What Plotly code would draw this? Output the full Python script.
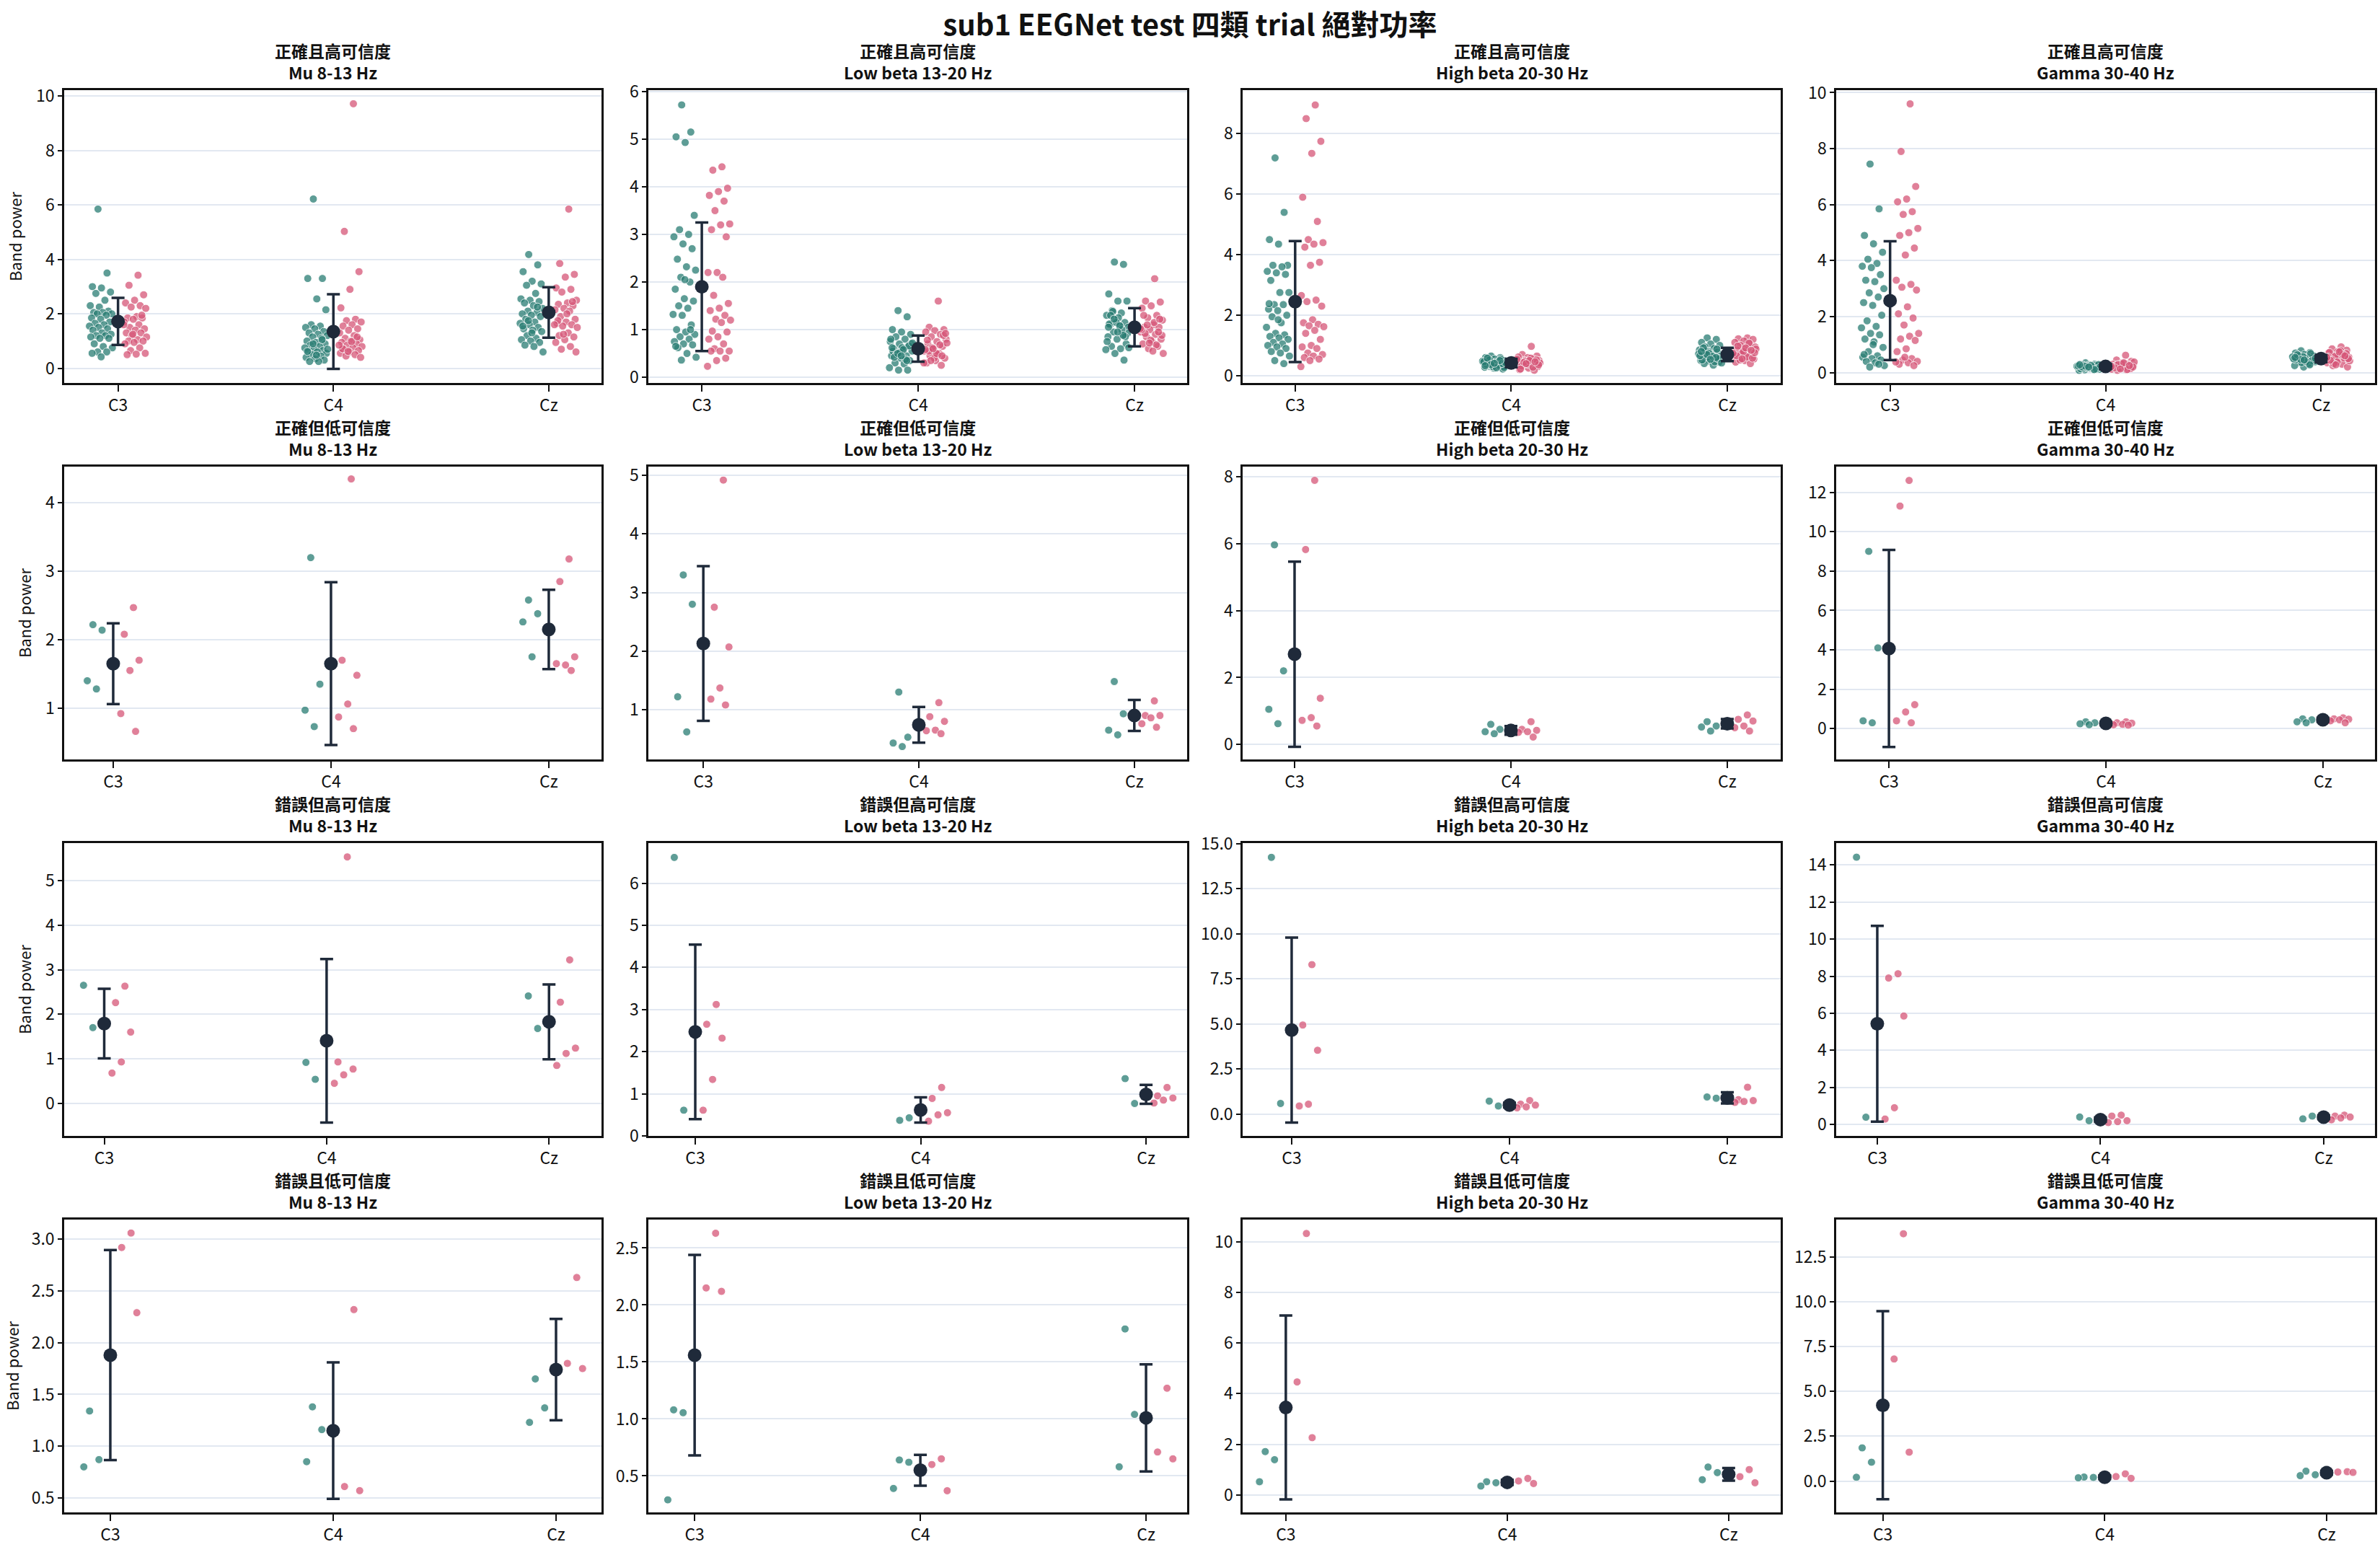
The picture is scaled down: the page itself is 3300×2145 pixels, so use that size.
import plotly.graph_objects as go
from plotly.subplots import make_subplots

# ---------------- data ----------------
channels = ["C3", "C4", "Cz"]
groups = ["正確且高可信度", "正確但低可信度", "錯誤但高可信度", "錯誤且低可信度"]
bands = ["Mu 8-13 Hz", "Low beta 13-20 Hz", "High beta 20-30 Hz", "Gamma 30-40 Hz"]
main_title = "sub1 EEGNet test 四類 trial 絕對功率"
y_title = "Band power"

# ---- row 1: 正確且高可信度 ----
r1_mu_a = [
    [5.85, 3.5, 3.0, 2.95, 2.8, 2.75, 2.5, 2.3, 2.25, 2.1, 2.05, 2.05, 2.0, 2.0, 1.95, 1.85, 1.8, 1.7, 1.65, 1.6, 1.55, 1.5, 1.45, 1.4, 1.3, 1.25, 1.2, 1.2, 1.15, 1.1, 1.1, 0.9, 0.8, 0.75, 0.6, 0.6, 0.55, 0.42],
    [6.22, 3.3, 3.3, 2.55, 2.15, 1.6, 1.55, 1.5, 1.45, 1.35, 1.3, 1.25, 1.2, 1.15, 1.1, 1.0, 0.95, 0.9, 0.85, 0.8, 0.75, 0.7, 0.65, 0.6, 0.6, 0.55, 0.5, 0.45, 0.4, 0.35, 0.3, 0.25, 0.25, 0.7, 0.9, 1.05, 0.62, 0.48],
    [4.18, 3.8, 3.55, 3.2, 3.1, 3.05, 2.75, 2.55, 2.5, 2.45, 2.4, 2.3, 2.2, 2.1, 2.05, 2.0, 1.95, 1.9, 1.8, 1.7, 1.65, 1.6, 1.5, 1.45, 1.4, 1.35, 1.2, 1.1, 1.05, 1.0, 0.95, 0.85, 0.8, 0.6, 1.75, 2.25, 1.55, 1.3],
]
r1_mu_b = [
    [3.42, 3.05, 2.7, 2.5, 2.4, 2.3, 2.25, 2.2, 1.9, 1.85, 1.85, 1.8, 1.7, 1.6, 1.5, 1.45, 1.4, 1.3, 1.3, 1.2, 1.15, 1.05, 1.0, 1.0, 0.95, 0.9, 0.75, 0.65, 0.55, 0.52, 0.5, 1.95, 1.25, 1.6],
    [9.72, 5.03, 3.55, 2.9, 2.22, 1.8, 1.75, 1.7, 1.6, 1.55, 1.45, 1.4, 1.3, 1.2, 1.1, 1.05, 1.0, 0.95, 0.9, 0.85, 0.8, 0.75, 0.7, 0.65, 0.6, 0.55, 0.5, 0.45, 0.4, 0.98, 0.72, 1.15, 0.62, 0.85],
    [5.85, 3.85, 3.45, 3.35, 2.95, 2.9, 2.8, 2.5, 2.4, 2.35, 2.3, 2.2, 2.15, 2.1, 1.9, 1.8, 1.7, 1.65, 1.6, 1.55, 1.5, 1.3, 1.2, 1.15, 1.05, 0.95, 0.8, 0.7, 0.6, 2.0, 1.75, 2.45, 1.25, 1.6],
]
r1_mu_mean = [1.72, 1.35, 2.05]
r1_mu_sd = [0.865, 1.37, 0.93]

r1_lb_a = [
    [5.72, 5.15, 5.05, 4.93, 3.4, 3.1, 3.0, 2.95, 2.8, 2.7, 2.48, 2.32, 2.25, 2.1, 2.0, 1.85, 1.65, 1.6, 1.5, 1.45, 1.32, 1.3, 1.1, 1.0, 0.95, 0.9, 0.85, 0.8, 0.75, 0.7, 0.68, 0.62, 0.5, 0.42, 0.36, 1.0, 0.65, 2.05],
    [1.4, 1.27, 1.0, 0.95, 0.9, 0.85, 0.8, 0.75, 0.7, 0.65, 0.6, 0.6, 0.55, 0.5, 0.45, 0.45, 0.4, 0.35, 0.3, 0.28, 0.2, 0.15, 0.15, 0.55, 0.62, 0.7, 0.48, 0.38, 0.8, 0.52, 0.66, 0.42, 0.58, 0.72, 0.5, 0.35, 0.62, 0.45],
    [2.42, 2.37, 1.75, 1.6, 1.6, 1.4, 1.35, 1.3, 1.2, 1.15, 1.1, 1.1, 1.05, 0.95, 0.9, 0.85, 0.8, 0.7, 0.65, 0.6, 0.58, 0.5, 0.36, 1.12, 1.25, 0.92, 1.38, 1.0, 0.75, 1.15, 0.85, 1.3, 1.08, 0.62, 1.22, 0.88, 1.05, 0.95],
]
r1_lb_b = [
    [4.42, 4.35, 3.97, 3.9, 3.82, 3.7, 3.5, 3.22, 3.2, 3.1, 2.95, 2.2, 2.2, 2.1, 1.72, 1.55, 1.45, 1.4, 1.3, 1.22, 1.2, 1.15, 0.97, 0.95, 0.85, 0.8, 0.7, 0.6, 0.55, 0.55, 0.55, 0.4, 0.35, 0.23],
    [1.6, 1.05, 1.0, 0.98, 0.95, 0.9, 0.85, 0.8, 0.75, 0.7, 0.65, 0.6, 0.55, 0.5, 0.45, 0.4, 0.35, 0.3, 0.25, 0.62, 0.72, 0.48, 0.55, 0.88, 0.4, 0.58, 0.68, 0.35, 0.92, 0.5, 0.78, 0.45, 0.6, 0.3],
    [2.07, 1.6, 1.58, 1.5, 1.45, 1.3, 1.25, 1.2, 1.1, 1.05, 1.05, 1.0, 0.95, 0.9, 0.85, 0.8, 0.75, 0.7, 0.65, 0.6, 0.5, 1.15, 0.92, 1.22, 0.78, 1.0, 0.68, 1.1, 0.88, 0.55, 1.3, 0.95, 0.72, 1.02],
]
r1_lb_mean = [1.9, 0.6, 1.05]
r1_lb_sd = [1.35, 0.275, 0.4]

r1_hb_a = [
    [7.2, 5.4, 4.5, 4.35, 3.65, 3.65, 3.6, 3.45, 3.4, 3.35, 3.15, 2.75, 2.75, 2.35, 2.35, 2.2, 2.15, 2.0, 1.95, 1.75, 1.6, 1.4, 1.35, 1.3, 1.25, 1.2, 1.1, 1.05, 1.0, 0.95, 0.9, 0.8, 0.75, 0.65, 0.5, 0.4, 2.38, 1.85],
    [0.65, 0.6, 0.6, 0.55, 0.5, 0.5, 0.45, 0.45, 0.4, 0.4, 0.38, 0.35, 0.35, 0.3, 0.3, 0.28, 0.25, 0.22, 0.42, 0.36, 0.48, 0.32, 0.55, 0.38, 0.44, 0.27, 0.52, 0.34, 0.46, 0.3, 0.4, 0.58, 0.26, 0.43, 0.37, 0.5, 0.33, 0.41],
    [1.25, 1.2, 1.1, 1.05, 1.0, 0.95, 0.9, 0.85, 0.8, 0.78, 0.75, 0.7, 0.65, 0.6, 0.55, 0.5, 0.48, 0.45, 0.4, 0.35, 0.72, 0.62, 0.88, 0.52, 0.68, 0.58, 0.82, 0.46, 0.66, 0.74, 0.56, 0.92, 0.64, 0.42, 0.7, 0.6, 0.8, 0.54],
]
r1_hb_b = [
    [8.95, 8.5, 7.75, 7.35, 5.9, 5.1, 4.5, 4.4, 4.35, 4.25, 3.75, 3.65, 2.65, 2.5, 2.45, 2.3, 1.85, 1.75, 1.7, 1.65, 1.62, 1.5, 1.4, 1.2, 1.0, 0.95, 0.9, 0.75, 0.7, 0.65, 0.6, 0.55, 0.5, 0.3],
    [0.97, 0.7, 0.65, 0.6, 0.55, 0.55, 0.5, 0.5, 0.45, 0.45, 0.4, 0.4, 0.35, 0.35, 0.3, 0.3, 0.25, 0.2, 0.18, 0.48, 0.42, 0.58, 0.32, 0.52, 0.38, 0.62, 0.28, 0.44, 0.36, 0.5, 0.22, 0.46, 0.4, 0.54],
    [1.25, 1.22, 1.2, 1.15, 1.1, 1.05, 1.0, 0.95, 0.9, 0.85, 0.8, 0.75, 0.7, 0.65, 0.6, 0.55, 0.5, 0.45, 0.4, 0.72, 0.88, 0.62, 0.98, 0.58, 0.8, 0.68, 1.08, 0.52, 0.76, 0.92, 0.66, 0.84, 0.56, 0.74],
]
r1_hb_mean = [2.45, 0.42, 0.7]
r1_hb_sd = [2.0, 0.14, 0.22]

r1_ga_a = [
    [7.45, 5.85, 4.9, 4.6, 4.3, 4.05, 3.9, 3.8, 3.75, 3.5, 3.3, 3.25, 3.0, 2.85, 2.7, 2.5, 2.4, 2.05, 1.85, 1.65, 1.6, 1.4, 1.35, 1.2, 1.1, 0.9, 0.75, 0.6, 0.55, 0.5, 0.45, 0.4, 0.35, 0.25, 0.2, 0.3, 0.65, 1.0],
    [0.35, 0.3, 0.3, 0.28, 0.25, 0.25, 0.22, 0.2, 0.2, 0.18, 0.15, 0.15, 0.12, 0.1, 0.1, 0.08, 0.24, 0.21, 0.27, 0.17, 0.23, 0.19, 0.26, 0.14, 0.22, 0.29, 0.16, 0.2, 0.24, 0.18, 0.13, 0.21, 0.26, 0.19, 0.23, 0.11, 0.28, 0.2],
    [0.78, 0.72, 0.7, 0.65, 0.6, 0.58, 0.55, 0.5, 0.48, 0.45, 0.42, 0.4, 0.38, 0.35, 0.3, 0.25, 0.2, 0.52, 0.62, 0.44, 0.56, 0.36, 0.68, 0.46, 0.53, 0.41, 0.6, 0.33, 0.49, 0.57, 0.43, 0.64, 0.39, 0.51, 0.47, 0.28, 0.54, 0.45],
]
r1_ga_b = [
    [9.6, 7.9, 6.65, 6.2, 6.1, 5.75, 5.65, 5.15, 5.0, 4.9, 4.45, 4.2, 3.3, 3.15, 3.05, 2.95, 2.35, 2.1, 1.95, 1.7, 1.4, 1.3, 1.2, 1.15, 0.85, 0.75, 0.5, 0.45, 0.4, 0.35, 0.3, 0.25, 0.55, 0.38],
    [0.62, 0.45, 0.4, 0.35, 0.3, 0.3, 0.28, 0.25, 0.22, 0.2, 0.18, 0.15, 0.12, 0.1, 0.08, 0.24, 0.33, 0.21, 0.27, 0.16, 0.38, 0.19, 0.26, 0.14, 0.31, 0.23, 0.11, 0.29, 0.2, 0.35, 0.17, 0.25, 0.13, 0.22],
    [0.92, 0.85, 0.8, 0.75, 0.7, 0.65, 0.6, 0.55, 0.5, 0.48, 0.45, 0.4, 0.35, 0.3, 0.25, 0.2, 0.62, 0.72, 0.52, 0.58, 0.42, 0.78, 0.46, 0.68, 0.38, 0.56, 0.64, 0.32, 0.5, 0.74, 0.44, 0.6, 0.28, 0.54],
]
r1_ga_mean = [2.57, 0.22, 0.5]
r1_ga_sd = [2.12, 0.1, 0.13]

# ---- row 2: 正確但低可信度 ----
r2_mu_a = [[2.22, 2.14, 1.4, 1.28], [3.2, 1.35, 0.97, 0.73], [2.58, 2.38, 2.26, 1.75]]
r2_mu_b = [[2.47, 2.08, 1.7, 1.55, 0.92, 0.66], [4.35, 1.7, 1.48, 1.06, 0.87, 0.7], [3.18, 2.85, 1.75, 1.63, 1.65, 1.55]]
r2_mu_mean = [1.65, 1.65, 2.15]
r2_mu_sd = [0.59, 1.19, 0.58]

r2_lb_a = [[3.3, 2.8, 1.22, 0.62], [1.3, 0.53, 0.43, 0.37], [1.48, 0.93, 0.65, 0.57]]
r2_lb_b = [[4.92, 2.75, 2.07, 1.37, 1.18, 1.08], [1.12, 0.88, 0.8, 0.65, 0.64, 0.59], [1.15, 0.9, 0.9, 0.86, 0.76, 0.7]]
r2_lb_mean = [2.13, 0.74, 0.9]
r2_lb_sd = [1.32, 0.305, 0.265]

r2_hb_a = [[5.97, 2.2, 1.05, 0.62], [0.6, 0.45, 0.38, 0.32], [0.68, 0.55, 0.52, 0.4]]
r2_hb_b = [[7.9, 5.83, 1.38, 0.8, 0.72, 0.55], [0.68, 0.45, 0.42, 0.38, 0.36, 0.22], [0.88, 0.75, 0.7, 0.55, 0.5, 0.4]]
r2_hb_mean = [2.7, 0.42, 0.62]
r2_hb_sd = [2.77, 0.13, 0.14]

r2_ga_a = [[9.0, 4.1, 0.4, 0.3], [0.35, 0.3, 0.25, 0.2], [0.5, 0.45, 0.35, 0.3]]
r2_ga_b = [[12.6, 11.3, 1.22, 0.85, 0.4, 0.3], [0.35, 0.3, 0.28, 0.22, 0.2, 0.18], [0.55, 0.5, 0.48, 0.45, 0.4, 0.3]]
r2_ga_mean = [4.07, 0.27, 0.45]
r2_ga_sd = [5.0, 0.07, 0.1]

# ---- row 3: 錯誤但高可信度 ----
r3_mu_a = [[2.65, 1.7], [0.92, 0.54], [2.41, 1.68]]
r3_mu_b = [[2.63, 2.26, 1.6, 0.93, 0.68], [5.53, 0.93, 0.77, 0.64, 0.45], [3.22, 2.27, 1.24, 1.12, 0.85]]
r3_mu_mean = [1.79, 1.405, 1.83]
r3_mu_sd = [0.78, 1.835, 0.84]

r3_lb_a = [[6.61, 0.61], [0.37, 0.43], [1.36, 0.77]]
r3_lb_b = [[3.12, 2.65, 2.32, 1.34, 0.61], [1.15, 0.89, 0.55, 0.5, 0.35], [1.15, 0.95, 0.9, 0.85, 0.78]]
r3_lb_mean = [2.47, 0.615, 0.985]
r3_lb_sd = [2.07, 0.3, 0.225]

r3_hb_a = [[14.24, 0.59], [0.72, 0.45], [0.95, 0.88]]
r3_hb_b = [[8.29, 4.94, 3.54, 0.55, 0.45], [0.75, 0.55, 0.5, 0.4, 0.35], [1.49, 0.8, 0.75, 0.7, 0.65]]
r3_hb_mean = [4.66, 0.5, 0.9]
r3_hb_sd = [5.13, 0.13, 0.31]

r3_ga_a = [[14.42, 0.39], [0.4, 0.2], [0.3, 0.45]]
r3_ga_b = [[8.13, 7.9, 5.85, 0.9, 0.29], [0.5, 0.45, 0.2, 0.15, 0.1], [0.5, 0.45, 0.4, 0.35, 0.25]]
r3_ga_mean = [5.43, 0.26, 0.39]
r3_ga_sd = [5.28, 0.12, 0.1]

# ---- row 4: 錯誤且低可信度 ----
r4_mu_a = [[1.34, 0.87, 0.8], [1.38, 1.16, 0.85], [1.65, 1.37, 1.23]]
r4_mu_b = [[3.06, 2.92, 2.29], [2.32, 0.61, 0.57], [2.63, 1.8, 1.75]]
r4_mu_mean = [1.88, 1.15, 1.74]
r4_mu_sd = [1.015, 0.66, 0.49]

r4_lb_a = [[1.08, 1.055, 0.29], [0.64, 0.62, 0.39], [1.79, 1.04, 0.58]]
r4_lb_b = [[2.63, 2.15, 2.12], [0.65, 0.6, 0.37], [1.27, 0.71, 0.65]]
r4_lb_mean = [1.56, 0.55, 1.01]
r4_lb_sd = [0.88, 0.135, 0.47]

r4_hb_a = [[1.71, 1.39, 0.52], [0.52, 0.48, 0.35], [1.1, 0.88, 0.6]]
r4_hb_b = [[10.32, 4.46, 2.26], [0.65, 0.55, 0.45], [1.0, 0.72, 0.48]]
r4_hb_mean = [3.45, 0.495, 0.81]
r4_hb_sd = [3.63, 0.1, 0.25]

r4_ga_a = [[1.85, 1.05, 0.21], [0.22, 0.2, 0.18], [0.55, 0.35, 0.3]]
r4_ga_b = [[13.8, 6.81, 1.61], [0.4, 0.25, 0.15], [0.52, 0.5, 0.48]]
r4_ga_mean = [4.23, 0.21, 0.46]
r4_ga_sd = [5.25, 0.1, 0.1]

panels = [
    [(r1_mu_a, r1_mu_b, r1_mu_mean, r1_mu_sd), (r1_lb_a, r1_lb_b, r1_lb_mean, r1_lb_sd),
     (r1_hb_a, r1_hb_b, r1_hb_mean, r1_hb_sd), (r1_ga_a, r1_ga_b, r1_ga_mean, r1_ga_sd)],
    [(r2_mu_a, r2_mu_b, r2_mu_mean, r2_mu_sd), (r2_lb_a, r2_lb_b, r2_lb_mean, r2_lb_sd),
     (r2_hb_a, r2_hb_b, r2_hb_mean, r2_hb_sd), (r2_ga_a, r2_ga_b, r2_ga_mean, r2_ga_sd)],
    [(r3_mu_a, r3_mu_b, r3_mu_mean, r3_mu_sd), (r3_lb_a, r3_lb_b, r3_lb_mean, r3_lb_sd),
     (r3_hb_a, r3_hb_b, r3_hb_mean, r3_hb_sd), (r3_ga_a, r3_ga_b, r3_ga_mean, r3_ga_sd)],
    [(r4_mu_a, r4_mu_b, r4_mu_mean, r4_mu_sd), (r4_lb_a, r4_lb_b, r4_lb_mean, r4_lb_sd),
     (r4_hb_a, r4_hb_b, r4_hb_mean, r4_hb_sd), (r4_ga_a, r4_ga_b, r4_ga_mean, r4_ga_sd)],
]

# ---------------- layout / style ----------------
W, H = 3300, 2145
FONT = "Noto Sans CJK TC, Noto Sans, sans-serif"
TEAL = "#297d73"
PINK = "#d65678"
NAVY = "#1f2a3a"
GRID = "#e2e8f1"

col_px = [(89, 834), (899, 1646), (1723, 2469), (2546, 3293)]
row_px = [(125, 531), (647, 1053), (1169, 1575), (1691, 2097)]

y_ranges = [
    [[-0.54, 10.22], [-0.12, 6.03], [-0.24, 9.44], [-0.37, 10.09]],
    [[0.25, 4.53], [0.15, 5.15], [-0.45, 8.31], [-1.56, 13.3]],
    [[-0.73, 5.84], [0.0, 6.95], [-1.21, 15.03], [-0.62, 15.18]],
    [[0.36, 3.19], [0.18, 2.75], [-0.69, 10.87], [-1.75, 14.59]],
]
y_dticks = [
    [2, 1, 2, 2],
    [1, 1, 2, 2],
    [1, 1, 2.5, 2],
    [0.5, 0.5, 2, 2.5],
]
y_formats = [
    ["", "", "", ""],
    ["", "", "", ""],
    ["", "", ".1f", ""],
    [".1f", ".1f", "", ".1f"],
]
x_ranges = [
    [[-0.25, 2.245], [-0.247, 2.243], [-0.243, 2.247], [-0.25, 2.25]],
    [[-0.225, 2.242], [-0.255, 2.245], [-0.24, 2.247], [-0.243, 2.24]],
    [[-0.18, 2.236], [-0.208, 2.182], [-0.225, 2.245], [-0.184, 2.23]],
    [[-0.207, 2.204], [-0.205, 2.182], [-0.195, 2.235], [-0.21, 2.218]],
]

fig = make_subplots(rows=4, cols=4)


def jitter(i, sign):
    frac = ((i + 1) * 0.6180339887) % 1.0
    return sign * (0.025 + 0.11 * frac)


annotations = []
for r in range(4):
    for c in range(4):
        a_vals, b_vals, means, sds = panels[r][c]
        for vals, sign, color in ((a_vals, -1, TEAL), (b_vals, 1, PINK)):
            xs, ys = [], []
            for ci, chv in enumerate(vals):
                for i, v in enumerate(chv):
                    xs.append(ci + jitter(i, sign))
                    ys.append(v)
            fig.add_trace(go.Scatter(
                x=xs, y=ys, mode="markers",
                marker=dict(size=11, color=color, opacity=0.75,
                            line=dict(color="white", width=1)),
                showlegend=False, hoverinfo="skip"), row=r + 1, col=c + 1)
        fig.add_trace(go.Scatter(
            x=list(range(len(channels))), y=means, mode="markers",
            marker=dict(size=19, color=NAVY),
            error_y=dict(type="data", array=sds, visible=True,
                         color=NAVY, thickness=3.5, width=9),
            showlegend=False, hoverinfo="skip"), row=r + 1, col=c + 1)

        idx = r * 4 + c + 1
        xa = "xaxis" if idx == 1 else f"xaxis{idx}"
        ya = "yaxis" if idx == 1 else f"yaxis{idx}"
        x0, x1 = col_px[c]
        y0, y1 = row_px[r]
        fig.layout[xa].update(
            domain=[x0 / W, x1 / W], range=x_ranges[r][c], automargin=False,
            tickmode="array", tickvals=list(range(len(channels))), ticktext=channels,
            showgrid=False, zeroline=False, showline=True, linecolor="#111111",
            linewidth=2.5, mirror=True, ticks="outside", ticklen=9, tickwidth=1.5,
            tickcolor="#111111", tickfont=dict(size=23, color="#111111", family=FONT))
        fig.layout[ya].update(
            domain=[1 - y1 / H, 1 - y0 / H], range=y_ranges[r][c], automargin=False,
            tickmode="linear", tick0=0, dtick=y_dticks[r][c],
            tickformat=y_formats[r][c],
            showgrid=True, gridcolor=GRID, gridwidth=2, zeroline=False,
            showline=True, linecolor="#111111", linewidth=2.5, mirror=True,
            ticks="outside", ticklen=6, tickwidth=1.5, tickcolor="#111111",
            tickfont=dict(size=23, color="#111111", family=FONT))
        if c == 0:
            fig.layout[ya].update(title=dict(text=y_title, standoff=14,
                                             font=dict(size=22, color="#111111", family=FONT)))
        annotations.append(dict(
            text=f"<b>{groups[r]}</b><br><b>{bands[c]}</b>",
            x=(x0 + x1) / 2 / W, y=1 - y0 / H, xref="paper", yref="paper",
            xanchor="center", yanchor="bottom", yshift=6, showarrow=False,
            font=dict(size=23, color="#111111", family=FONT)))

fig.update_layout(
    width=W, height=H, autosize=False,
    margin=dict(l=0, r=0, t=0, b=0, pad=0, autoexpand=False),
    paper_bgcolor="white", plot_bgcolor="white",
    font=dict(family=FONT, color="#111111"),
    title=dict(text=f"<b>{main_title}</b>", x=0.5, xanchor="center",
               y=1 - 35 / H, yanchor="middle",
               font=dict(size=40, family=FONT, color="#111111")),
    annotations=annotations,
    showlegend=False,
)

fig.write_html("out.html",
               post_script="document.body.style.margin='0';document.body.style.overflow='hidden';")
